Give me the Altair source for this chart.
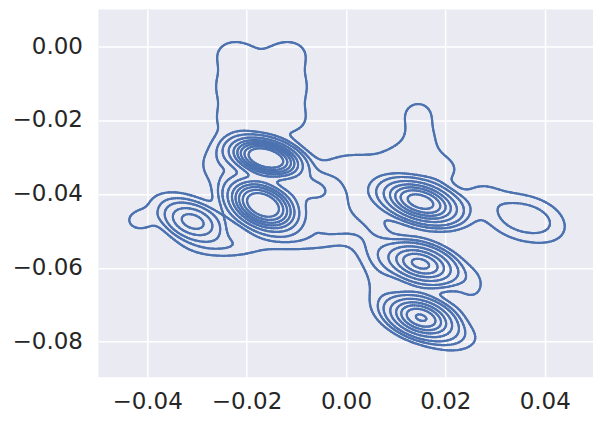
import numpy as np
import pandas as pd
import altair as alt

# Density components: main clusters first, then the thin outer ones
comp_x   = [-0.0308, -0.0167, -0.0161, 0.0150, 0.0150, 0.0151, 0.0330, 0.0390,
            -0.0225, -0.0115, -0.0225, -0.0115, -0.0225, -0.0115,
            -0.0360, -0.0415, -0.0240, -0.0090, -0.0260, 0.0020, 0.0000, 0.0000, 0.0050, 0.0065,
            0.0130, 0.0145, 0.0150, 0.0195, 0.0270, 0.0255, 0.0225, -0.0075, -0.0040]
comp_y   = [-0.0475, -0.0430, -0.0303, -0.0421, -0.0589, -0.0735, -0.0460, -0.0472,
            -0.0020, -0.0020, -0.0110, -0.0110, -0.0200, -0.0200,
            -0.0420, -0.0472, -0.0540, -0.0525, -0.0320, -0.0320, -0.0410, -0.0490, -0.0530, -0.0640,
            -0.0295, -0.0185, -0.0245, -0.0335, -0.0400, -0.0650, -0.0795, -0.0385, -0.0450]
comp_sx  = [0.0034, 0.0036, 0.0036, 0.0042, 0.0040, 0.0037, 0.0043, 0.0043,
            0.0040, 0.0040, 0.0040, 0.0040, 0.0040, 0.0040,
            0.0040, 0.0022, 0.0060, 0.0050, 0.0030, 0.0060, 0.0045, 0.0040, 0.0030, 0.0025,
            0.0045, 0.0025, 0.0030, 0.0030, 0.0030, 0.0025, 0.0040, 0.0035, 0.0035]
comp_sy  = [0.0030, 0.0036, 0.0027, 0.0032, 0.0031, 0.0031, 0.0045, 0.0045,
            0.0040, 0.0040, 0.0040, 0.0040, 0.0040, 0.0040,
            0.0030, 0.0022, 0.0025, 0.0025, 0.0040, 0.0030, 0.0065, 0.0030, 0.0050, 0.0060,
            0.0028, 0.0030, 0.0030, 0.0030, 0.0030, 0.0040, 0.0030, 0.0030, 0.0050]
comp_rho = [-0.30, -0.35, -0.35, -0.40, -0.35, -0.35, -0.30, -0.30,
            0, 0, 0, 0, 0, 0,
            0, 0, 0, 0, 0, 0, 0, 0, 0, 0,
            0, 0, 0, 0, 0, 0, 0, 0, 0]
comp_w   = [0.0300, 0.1370, 0.1100, 0.0890, 0.0590, 0.0670, 0.0098, 0.0098,
            0.0060, 0.0060, 0.0060, 0.0060, 0.0060, 0.0060,
            0.0035, 0.0021, 0.0075, 0.0043, 0.0050, 0.0051, 0.0110, 0.0030, 0.0057, 0.0047,
            0.0048, 0.0033, 0.0031, 0.0031, 0.0023, 0.0031, 0.0041, 0.0086, 0.0060]

contour_levels = [46, 90, 148, 260, 405, 560, 735, 953, 1212]
x_ticks = [-0.04, -0.02, 0.0, 0.02, 0.04]
y_ticks = [0.0, -0.02, -0.04, -0.06, -0.08]
x_domain = [-0.0498, 0.0497]
y_domain = [-0.0896, 0.0099]

# density grid
gx = np.linspace(-0.065, 0.065, 331)
gy = np.linspace(-0.105, 0.025, 331)
X, Y = np.meshgrid(gx, gy)
Z = np.zeros_like(X)
for cx, cy, sx, sy, r, w in zip(comp_x, comp_y, comp_sx, comp_sy, comp_rho, comp_w):
    dx = (X - cx) / sx
    dy = (Y - cy) / sy
    q = (dx * dx - 2 * r * dx * dy + dy * dy) / (1 - r * r)
    Z += w / (2 * np.pi * sx * sy * np.sqrt(1 - r * r)) * np.exp(-0.5 * q)

# marching squares -> contour segments
table = {1: [(3, 0)], 2: [(0, 1)], 3: [(3, 1)], 4: [(1, 2)], 5: [(3, 0), (1, 2)],
         6: [(0, 2)], 7: [(3, 2)], 8: [(2, 3)], 9: [(0, 2)], 10: [(0, 1), (2, 3)],
         11: [(1, 2)], 12: [(1, 3)], 13: [(0, 1)], 14: [(0, 3)]}

a = Z[:-1, :-1]; b = Z[:-1, 1:]; c = Z[1:, 1:]; d = Z[1:, :-1]
shape = a.shape
x0 = np.broadcast_to(gx[:-1][None, :], shape)
x1 = np.broadcast_to(gx[1:][None, :], shape)
y0 = np.broadcast_to(gy[:-1][:, None], shape)
y1 = np.broadcast_to(gy[1:][:, None], shape)

rows = []
with np.errstate(divide="ignore", invalid="ignore"):
    for li, L in enumerate(contour_levels):
        case = (a > L) * 1 + (b > L) * 2 + (c > L) * 4 + (d > L) * 8
        E = [
            (x0 + (L - a) / (b - a) * (x1 - x0), y0),
            (x1, y0 + (L - b) / (c - b) * (y1 - y0)),
            (x0 + (L - d) / (c - d) * (x1 - x0), y1),
            (x0, y0 + (L - a) / (d - a) * (y1 - y0)),
        ]
        for k, pairs in table.items():
            m = case == k
            if not m.any():
                continue
            for p, qq in pairs:
                rows.append(pd.DataFrame({
                    "x": E[p][0][m], "y": E[p][1][m],
                    "x2": E[qq][0][m], "y2": E[qq][1][m], "level": li}))

df = pd.concat(rows, ignore_index=True).round(6)

chart = alt.Chart(df).mark_rule(
    color="#4C72B0", strokeWidth=2.2, strokeCap="round", clip=True
).encode(
    x=alt.X("x:Q", scale=alt.Scale(domain=x_domain, nice=False, zero=False),
            axis=alt.Axis(values=x_ticks, format=".2f", title=None, labelPadding=13)),
    y=alt.Y("y:Q", scale=alt.Scale(domain=y_domain, nice=False, zero=False),
            axis=alt.Axis(values=y_ticks, format=".2f", title=None, labelPadding=16)),
    x2="x2:Q",
    y2="y2:Q",
).properties(
    width=495, height=368,
    autosize=alt.AutoSizeParams(type="none"),
    padding={"left": 90.5, "top": 1.3, "right": 2, "bottom": 40},
).configure_view(
    fill="#EAEAF2", strokeWidth=0
).configure_axis(
    labelFont="DejaVu Sans", labelFontSize=23, labelColor="#262626",
    ticks=False, domain=False, grid=True, gridColor="white", gridWidth=1.5,
)

chart.save("out.html", embed_options={"renderer": "svg", "actions": False})
